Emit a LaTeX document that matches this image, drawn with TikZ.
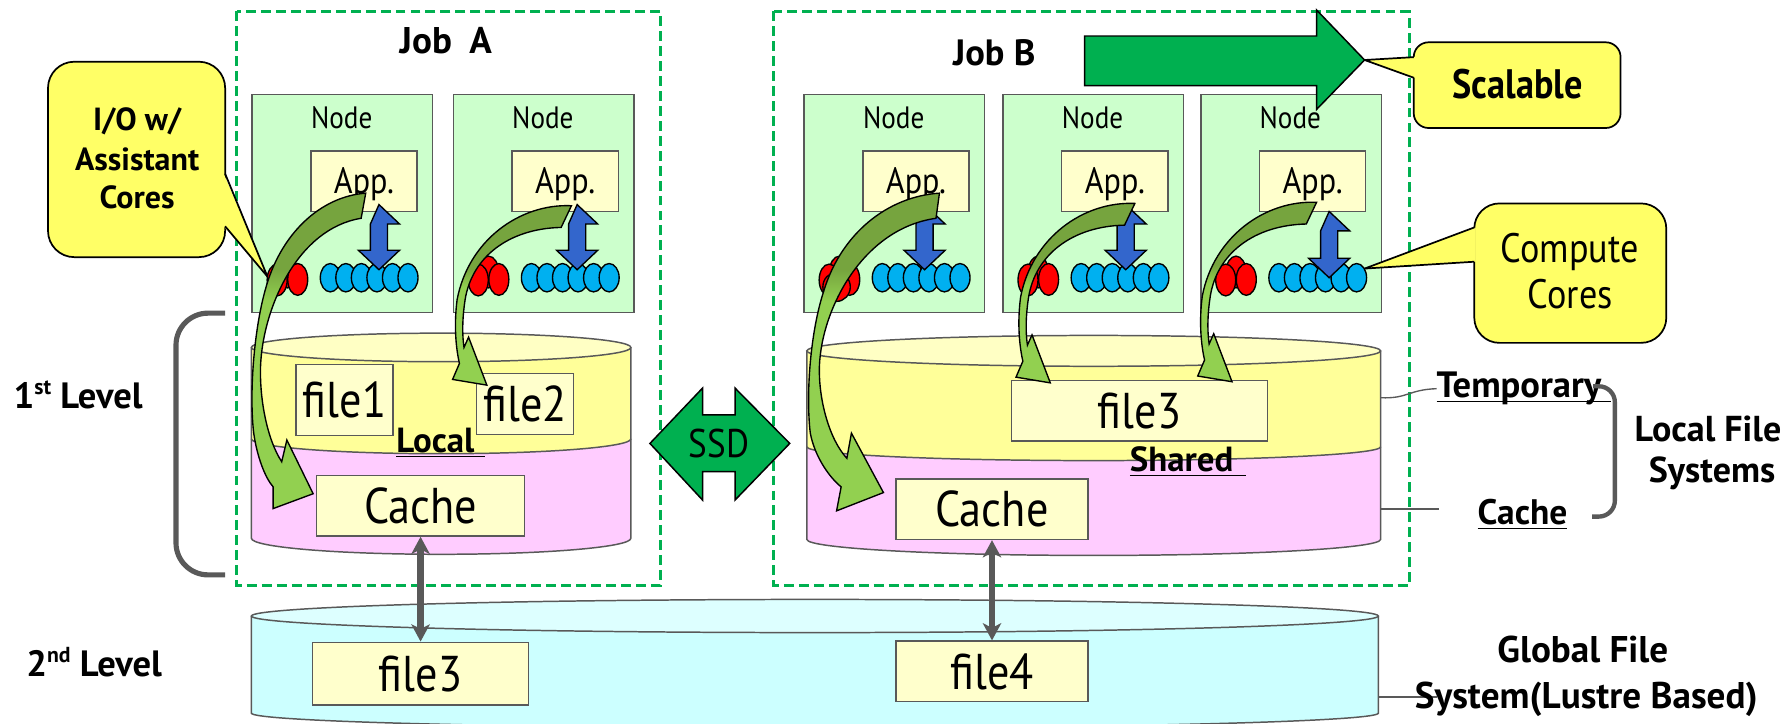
\documentclass[tikz,border=0pt]{standalone}
\usepackage{fontspec}
\setmainfont{PT Sans}[FakeStretch=0.88]
\newfontfamily\lblbold{PT Sans}
\usetikzlibrary{arrows.meta}

\definecolor{jobgreen}{HTML}{00B050}
\definecolor{nodefill}{HTML}{CCFFCC}
\definecolor{boxfill}{HTML}{FFFFCC}
\definecolor{edgegray}{HTML}{595959}
\definecolor{cylyellow}{HTML}{FFFF99}
\definecolor{cyltop}{HTML}{FFFFC4}
\definecolor{cylpink}{HTML}{FFCCFF}
\definecolor{cylcyan}{HTML}{CCFFFF}
\definecolor{cyltopcyan}{HTML}{DDFFFF}
\definecolor{callfill}{HTML}{FFFF66}
\definecolor{corered}{HTML}{FF0000}
\definecolor{coreblue}{HTML}{00B0F0}
\definecolor{arrowblue}{HTML}{3366CC}
\definecolor{flowdark}{RGB}{118,164,62}
\definecolor{flowlight}{RGB}{146,208,80}

% I/O flow arrows: olive on the upper arc, light green towards the head
\pgfdeclareverticalshading{flowlong}{100bp}{color(0bp)=(flowlight); color(58bp)=(flowlight); color(63bp)=(flowdark); color(100bp)=(flowdark)}
\pgfdeclareverticalshading{flowshort}{100bp}{color(0bp)=(flowlight); color(52bp)=(flowlight); color(57bp)=(flowdark); color(100bp)=(flowdark)}

\newcommand\fsz[1]{\fontsize{#1}{#1}\selectfont}
\newcommand\bfs[1]{\fontsize{#1}{#1}\lblbold\bfseries}
% underline close to the baseline, optionally running past the word
\newcommand\ulx[2]{\setbox0=\hbox{#2}\rlap{\rule[-4pt]{\dimexpr\wd0+#1\relax}{1.4pt}}\box0}
\newcommand\sups[1]{\raisebox{0.38em}{\fsz{19}#1}}

% one row of cores: three assistant cores (red) and six compute cores (blue)
\newcommand\corerow[2]{%
  \filldraw[redcore] ({#1+31.5},{#2-5}) ellipse[x radius=8.75, y radius=13.9];
  \filldraw[redcore] ({#1+40.5},{#2+1.5}) ellipse[x radius=8.75, y radius=13.9];
  \filldraw[redcore] ({#1+22.5},{#2+2}) ellipse[x radius=8.75, y radius=13.9];
  \foreach \k in {0,...,5}{\filldraw[bluecore] ({#1+69+13.6*\k},#2) ellipse[x radius=8.75, y radius=12.4];}
}
% vertical double block arrow between application and compute cores
\newcommand\vdarrow[3]{%
  \filldraw[blueflow] (#1,#2) -- ++(18,17) -- ++(-10.5,0) -- ++(0,#3) -- ++(10.5,0)
    -- ++(-18,17) -- ++(-18,-17) -- ++(10.5,0) -- ++(0,-#3) -- cycle;
}
% short curved I/O arrow into the temporary area
\newcommand\shortflow[1]{%
  \begin{scope}[shift={#1}]
    \shadedraw[flowedge, shading=flowshort] (500,180) .. controls (455,178) and (410,210) .. (400,262)
      .. controls (397,285) and (399,305) .. (402,318) -- (396,332) -- (426,337) -- (410,295) -- (406,304)
      .. controls (404,290) and (405,275) .. (407,262) .. controls (413,225) and (445,200) .. (491,199) -- cycle;
  \end{scope}
}

\begin{document}
\begin{tikzpicture}[x=1pt,y=-1pt,
  txt/.style={inner sep=0pt, outer sep=0pt},
  jobbox/.style={draw=jobgreen, line width=2.6pt, dash pattern=on 8.7pt off 4.4pt},
  nodebox/.style={draw=edgegray, fill=nodefill, line width=1.3pt, inner sep=0pt},
  appbox/.style={draw=edgegray, fill=boxfill, line width=1.3pt, inner sep=0pt, minimum width=93, minimum height=53},
  filebox/.style={draw=edgegray, fill=boxfill, line width=1.3pt, inner sep=0pt},
  cylside/.style={draw=edgegray, line width=1.3pt},
  bubble/.style={draw=black, fill=callfill, line width=1.5pt},
  calledge/.style={draw=black, line width=1.5pt, line join=miter},
  redcore/.style={draw=black, fill=corered, line width=1.2pt},
  bluecore/.style={draw=black, fill=coreblue, line width=1.2pt},
  blueflow/.style={draw=black, fill=arrowblue, line width=1.2pt, line join=miter},
  flowedge/.style={draw=black, line width=1.2pt, line join=miter},
  bigarrow/.style={draw=black, fill=jobgreen, line width=1.3pt, line join=miter},
  syncarrow/.style={draw=edgegray, line width=5.5pt,
    {Stealth[length=15pt,width=16pt,inset=4pt]}-{Stealth[length=15pt,width=16pt,inset=4pt]}},
  bracebar/.style={draw=edgegray, line width=4.5pt},
  tieline/.style={draw=edgegray, line width=1.2pt},
]
\useasboundingbox (0,0) rectangle (1568,633);

% ---- job frames
\draw[jobbox] (207,10) rectangle (578,512);
\draw[jobbox] (677,10) rectangle (1233,512);
\node[txt, anchor=base] (jobA) at (390,47) {\bfs{32.5}Job\hspace{7pt} A};
\node[txt, anchor=base] (jobB) at (870,57) {\bfs{32}Job B};

% ---- compute nodes with their applications
\foreach \nx/\nm in {220/n1, 396/n2, 703/n3, 877/n4, 1050/n5} {
  \node[nodebox, anchor=north west, minimum width=158, minimum height=191] (\nm) at (\nx,82) {};
  \node[txt, anchor=base] (\nm-label) at ({\nx+79},112) {\fsz{27}Node};
  \node[appbox] (\nm-app) at ({\nx+98.5},158.5) {};
  \node[txt, anchor=base] (\nm-apptext) at ({\nx+98.5},169) {\fsz{32}App.};
}

% ---- local file system of job A (temporary + cache)
\filldraw[cylside, fill=cylpink] (220,384) -- (220,471) arc[start angle=180, end angle=0, x radius=166, y radius=14] -- (552,384);
\filldraw[cylside, fill=cylyellow] (220,304) -- (220,384) arc[start angle=180, end angle=0, x radius=166, y radius=13] -- (552,304);
\filldraw[cylside, fill=cyltop] (386,304) ellipse[x radius=166, y radius=12.5];

% ---- shared file system of job B
\filldraw[cylside, fill=cylpink] (706,391) -- (706,472) arc[start angle=180, end angle=0, x radius=251, y radius=14] -- (1208,391);
\filldraw[cylside, fill=cylyellow] (706,307) -- (706,391) arc[start angle=180, end angle=0, x radius=251, y radius=12] -- (1208,307);
\filldraw[cylside, fill=cyltop] (957,307) ellipse[x radius=251, y radius=13.5];

% ---- global file system
\filldraw[cylside, fill=cylcyan] (220,539) -- (220,624) arc[start angle=180, end angle=0, x radius=493, y radius=13] -- (1206,539);
\filldraw[cylside, fill=cyltopcyan] (713,539) ellipse[x radius=493, y radius=14.5];

% ---- files
\node[filebox, minimum width=85, minimum height=62] (file1) at (301.5,350) {\fsz{44}file1};
\node[filebox, minimum width=85, minimum height=53] (file2) at (459.5,353.5) {\fsz{44}file2};
\node[filebox, minimum width=182, minimum height=53] (cacheA) at (368,442.5) {\fsz{44}Cache};
\node[txt, anchor=base] (localLbl) at (381,396) {\bfs{30.5}\ulx{9pt}{Local}};
\node[filebox, minimum width=224, minimum height=53] (file3s) at (997,359.5) {\fsz{44}file3};
\node[filebox, minimum width=168, minimum height=53] (cacheB) at (868,445.5) {\fsz{44}Cache};
\node[txt, anchor=base] (sharedLbl) at (1034,412.7) {\bfs{30.5}\ulx{11pt}{Shared}};
\node[filebox, minimum width=189, minimum height=55] (gfile3) at (368,589.5) {\fsz{44}file3};
\node[filebox, minimum width=168, minimum height=53] (file4) at (868,587.5) {\fsz{44}file4};

% ---- SSD link
\filldraw[bigarrow] (568.7,388) -- (614.7,339.6) -- (614.7,363) -- (643.2,363) -- (643.2,339.6) -- (691,388)
  -- (643.2,437.5) -- (643.2,412.7) -- (614.7,412.7) -- (614.7,437.5) -- cycle;
\node[txt, anchor=base] (ssd) at (629,400) {\fsz{35}SSD};

% ---- callouts
\filldraw[bubble, rounded corners=23] (42,54) rectangle (197,225);
\fill[callfill] (195.8,152) -- (234,242) -- (195.8,198) -- cycle;
\draw[calledge] (197,152) -- (234,242) -- (197,198);
\node[txt, anchor=base] (io1) at (120,114) {\bfs{28}I/O w/};
\node[txt, anchor=base] (io2) at (120,149) {\bfs{28}Assistant};
\node[txt, anchor=base] (io3) at (120,182) {\bfs{28}Cores};

\filldraw[bubble, rounded corners=22] (1290,178) rectangle (1458,300);
\fill[callfill] (1291.2,199) -- (1194,235) -- (1291.2,229) -- cycle;
\draw[calledge] (1290,199) -- (1194,235) -- (1290,229);
\node[txt, anchor=base] (cc1) at (1373.5,230) {\fsz{36}Compute};
\node[txt, anchor=base] (cc2) at (1374,270) {\fsz{36}Cores};

\filldraw[bubble, rounded corners=13] (1237,37) rectangle (1418,112);
\fill[callfill] (1238.2,50) -- (1194,52.5) -- (1238.2,68) -- cycle;
\draw[calledge] (1237,50) -- (1194,52.5) -- (1237,68);
\node[txt, anchor=base] (scal) at (1328,86) {\fsz{36}\bfseries Scalable};

% ---- cores and application <-> core traffic
\corerow{220}{243}
\corerow{396}{243}
\corerow{703}{243}
\filldraw[redcore] (732,251) ellipse[x radius=12, y radius=12.7];
\corerow{877}{243}
\corerow{1050}{243}
\vdarrow{331.6}{179}{23}
\vdarrow{505}{179}{23}
\vdarrow{809}{179}{23}
\vdarrow{985}{179}{23}
\vdarrow{1163}{185}{24}

% ---- I/O through the assistant cores
\shadedraw[flowedge, shading=flowlong] (320,169) .. controls (280,172) and (245,205) .. (232,254)
  .. controls (222,290) and (218,345) .. (222,379) .. controls (225,400) and (232,418) .. (239,426)
  -- (239,445) -- (274,432) -- (251,385) -- (246.5,404)
  .. controls (234,385) and (227,350) .. (228,320) .. controls (230,270) and (260,200) .. (316,191) -- cycle;
\shadedraw[flowedge, shading=flowlong] (822,169) .. controls (776,172) and (736,205) .. (721,254)
  .. controls (709,290) and (705,345) .. (709,379) .. controls (713,400) and (726,418) .. (736,426)
  -- (732,447) -- (773,431) -- (745,379) -- (741,401)
  .. controls (726,385) and (716,350) .. (717,320) .. controls (719,270) and (755,200) .. (819,191) -- cycle;
\shortflow{(0,0)}
\shortflow{(493,-2)}
\shortflow{(652,-3)}

% ---- scalability arrow
\filldraw[bigarrow] (949,31.5) -- (1152,31.5) -- (1152,8.75) -- (1194,52.5) -- (1152,95.7) -- (1152,75) -- (949,75) -- cycle;

% ---- cache <-> global file system
\draw[syncarrow] (cacheA.south) -- (cacheA.south |- gfile3.north);
\draw[syncarrow] (cacheB.south) -- (cacheB.south |- file4.north);

% ---- level brackets and labels
\draw[bracebar, rounded corners=28] (197,274) -- (154,274) -- (154,503) -- (197,503);
\node[txt, anchor=base west] (lvl1) at (12,357) {\bfs{32}1\sups{st} Level};
\node[txt, anchor=base west] (lvl2) at (23,592) {\bfs{32}2\sups{nd} Level};

\node[txt, anchor=base west] (tmpLbl) at (1257,348) {\bfs{32}\ulx{8pt}{Temporary}};
\node[txt, anchor=base west] (cacheLbl) at (1293,459) {\bfs{31}\ulx{0pt}{Cache}};
\coordinate (shTmp) at (1208,348);
\coordinate (shCache) at (1208,445.5);
\coordinate (cacheTie) at (1259,445.5);
\draw[tieline] (shTmp) .. controls (1232,349) and (1232,341) .. (tmpLbl.west);
\draw[tieline] (shCache) -- (cacheTie);
\draw[bracebar, rounded corners=14, line width=3.8pt] (1394,338) -- (1413,338) -- (1413,452) -- (1393,452);
\node[txt, anchor=base] (lfsTop) at (1494.5,386) {\bfs{31.5}Local File};
\node[txt, anchor=base] (lfsBottom) at (1498,422) {\bfs{31.5}Systems};

\coordinate (gfsEdge) at (1206,610);
\coordinate (gfsTie) at (1257,610);
\draw[tieline] (gfsEdge) -- (gfsTie);
\node[txt, anchor=base] (gfsTop) at (1385,580) {\bfs{32.5}Global File};
\node[txt, anchor=base] (gfsBottom) at (1388,619.5) {\bfs{32.5}System(Lustre Based)};
\end{tikzpicture}
\end{document}
